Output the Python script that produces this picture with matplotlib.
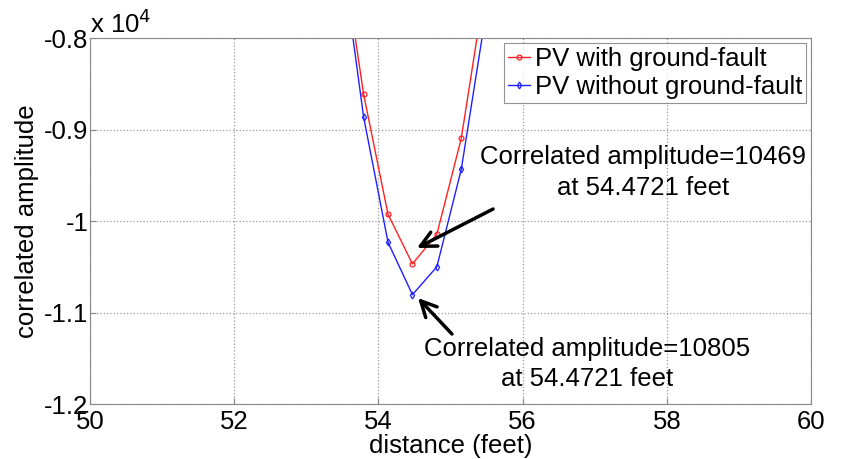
import matplotlib
matplotlib.use('Agg')
import matplotlib.pyplot as plt
from matplotlib.ticker import FuncFormatter

plt.rcParams['font.family'] = ['Liberation Sans', 'DejaVu Sans']

# distance (feet) and correlated amplitude for both cases
distance = [53.4560, 53.7947, 54.1334, 54.4721, 54.8108, 55.1495, 55.4882]
with_fault = [-6810, -8615, -9927, -10469, -10145, -9096, -7390]
without_fault = [-6885, -8863, -10233, -10805, -10500, -9435, -7746]

x_ticks = [50, 52, 54, 56, 58, 60]
y_ticks = [-12000, -11000, -10000, -9000, -8000]

fs = 18.5

fig = plt.figure(figsize=(8.42, 4.59), dpi=100)
ax = fig.add_axes([0.1069, 0.1198, 0.8563, 0.7974])

ax.plot(distance, with_fault, '-o', color='#ff2020', lw=1.0, ms=3.5,
        mfc='none', mew=0.9, label='PV with ground-fault')
ax.plot(distance, without_fault, '-d', color='#2020ff', lw=1.0, ms=3.5,
        mfc='none', mew=0.9, label='PV without ground-fault')

ax.set_xlim(50, 60)
ax.set_ylim(-12000, -8000)
ax.set_xticks(x_ticks)
ax.set_yticks(y_ticks)
ax.yaxis.set_major_formatter(FuncFormatter(lambda v, p: '%g' % (v / 1e4)))
ax.tick_params(direction='in', labelsize=fs, length=4, color='#888888')
ax.tick_params(axis='y', pad=1)
ax.tick_params(axis='x', pad=4)
ax.grid(True, linestyle=':', color='#999999', lw=0.9)
for s in ax.spines.values():
    s.set_color('#888888')

ax.set_xlabel('distance (feet)', fontsize=fs, labelpad=0)
ax.set_ylabel('correlated amplitude', fontsize=fs, labelpad=4)
ax.text(0.0, 1.0, 'x 10$^4$', transform=ax.transAxes, fontsize=fs,
        ha='left', va='bottom')

leg = ax.legend(loc='upper right', fontsize=fs, handlelength=0.85,
                handletextpad=0.2, borderpad=0.15, labelspacing=0.15,
                fancybox=False, borderaxespad=0.2)
leg.get_frame().set_edgecolor('#777777')
leg.get_frame().set_linewidth(0.8)

arrow = dict(arrowstyle='->', color='black', lw=2.5, mutation_scale=28,
             shrinkA=0, shrinkB=0)

ax.text(57.67, -9470, 'Correlated amplitude=10469\nat 54.4721 feet',
        fontsize=fs, ha='center', va='center', linespacing=1.35)
ax.annotate('', xy=(54.535, -10295), xytext=(55.59, -9869), arrowprops=arrow)

ax.text(56.9, -11563, 'Correlated amplitude=10805\nat 54.4721 feet',
        fontsize=fs, ha='center', va='center', linespacing=1.35)
ax.annotate('', xy=(54.55, -10842), xytext=(55.02, -11235), arrowprops=arrow)

fig.savefig('out.png', dpi=100)
